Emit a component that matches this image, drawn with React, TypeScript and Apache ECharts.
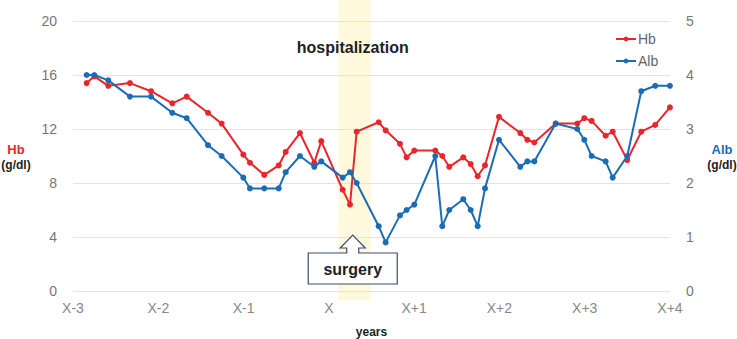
import React, { useEffect, useRef } from "react";
import * as echarts from "echarts";

// Time of each measurement, in years relative to the surgery year X
const years = [
  -2.84, -2.75, -2.586, -2.332, -2.085, -1.836, -1.667, -1.417, -1.257, -1.003,
  -0.925, -0.757, -0.588, -0.506, -0.339, -0.171, -0.089, 0.162, 0.248, 0.326,
  0.584, 0.666, 0.834, 0.912, 1.002, 1.248, 1.33, 1.412, 1.576, 1.663,
  1.745, 1.831, 1.995, 2.245, 2.327, 2.409, 2.66, 2.913, 2.995, 3.081,
  3.245, 3.328, 3.499, 3.663, 3.827, 3.999,
];

// Hemoglobin (g/dl)
const hb = [
  15.4, 15.9, 15.2, 15.4, 14.8, 13.9, 14.4, 13.2, 12.4, 10.1,
  9.5, 8.6, 9.3, 10.3, 11.7, 9.5, 11.1, 7.5, 6.4, 11.8,
  12.5, 11.9, 10.9, 9.9, 10.4, 10.4, 10.0, 9.2, 9.9, 9.4,
  8.5, 9.3, 12.9, 11.7, 11.2, 11.0, 12.4, 12.4, 12.8, 12.6,
  11.5, 11.8, 9.7, 11.8, 12.3, 13.6,
];

// Albumin (g/dl)
const alb = [
  4.0, 4.0, 3.9, 3.6, 3.6, 3.3, 3.2, 2.7, 2.5, 2.1,
  1.9, 1.9, 1.9, 2.2, 2.5, 2.3, 2.4, 2.1, 2.2, 2.0,
  1.2, 0.9, 1.4, 1.5, 1.6, 2.5, 1.2, 1.5, 1.7, 1.5,
  1.2, 1.9, 2.8, 2.3, 2.4, 2.4, 3.1, 3.0, 2.8, 2.5,
  2.4, 2.1, 2.5, 3.7, 3.8, 3.8,
];

// Hospitalization period (years relative to X) and the surgery marker position
const hospitalization = [0.11, 0.49];
const surgeryAt = 0.28;

const RED = "#e8262c";
const BLUE = "#1a6db5";
const FONT = "'Liberation Sans', Arial, sans-serif";

function yearLabel(v: number): string {
  if (v === 0) return "X";
  return v < 0 ? `X${v}` : `X+${v}`;
}

export default function App() {
  const ref = useRef<HTMLDivElement>(null);

  useEffect(() => {
    if (!ref.current) return;
    const chart = echarts.init(ref.current, undefined, { renderer: "svg" });

    chart.setOption({
      animation: false,
      textStyle: { fontFamily: FONT },
      grid: { left: 73, right: 67, top: 21, bottom: 48, outerBoundsMode: "none", containLabel: false },
      legend: {
        data: ["Hb", "Alb"],
        orient: "vertical",
        left: 610,
        top: 27,
        itemWidth: 20,
        itemHeight: 6,
        itemGap: 8,
        textStyle: { color: "#666", fontSize: 14, fontFamily: FONT, padding: [0, 0, 0, -3] },
      },
      xAxis: {
        type: "value",
        min: -3,
        max: 4,
        interval: 1,
        name: "years",
        nameLocation: "middle",
        nameGap: 35,
        nameTextStyle: { color: "#222", fontSize: 12, fontWeight: "bold", fontFamily: FONT },
        axisLine: { show: false },
        axisTick: { show: false },
        splitLine: { show: false },
        axisLabel: {
          color: "#888",
          fontSize: 14,
          margin: 10,
          formatter: yearLabel,
        },
      },
      yAxis: [
        {
          type: "value",
          min: 0,
          max: 20,
          interval: 4,
          axisLine: { show: false },
          axisTick: { show: false },
          axisLabel: { color: "#777", fontSize: 14, margin: 16 },
          splitLine: { lineStyle: { color: "#e3e3e3", width: 1 } },
        },
        {
          type: "value",
          min: 0,
          max: 5,
          interval: 1,
          position: "right",
          axisLine: { show: false },
          axisTick: { show: false },
          axisLabel: { color: "#777", fontSize: 14, margin: 16 },
          splitLine: { show: false },
        },
      ],
      series: [
        {
          name: "Hb",
          type: "line",
          yAxisIndex: 0,
          data: years.map((t, i) => [t, hb[i]]),
          symbol: "circle",
          symbolSize: 6,
          lineStyle: { color: RED, width: 2 },
          itemStyle: { color: RED },
          z: 3,
        },
        {
          name: "Alb",
          type: "line",
          yAxisIndex: 1,
          data: years.map((t, i) => [t, alb[i]]),
          symbol: "circle",
          symbolSize: 6,
          lineStyle: { color: BLUE, width: 2 },
          itemStyle: { color: BLUE },
          z: 4,
        },
      ],
    });

    // Annotations placed from the axis scales
    const x0 = chart.convertToPixel({ xAxisIndex: 0 }, hospitalization[0]) as number;
    const x1 = chart.convertToPixel({ xAxisIndex: 0 }, hospitalization[1]) as number;
    const cx = chart.convertToPixel({ xAxisIndex: 0 }, surgeryAt) as number;
    const yBase = chart.convertToPixel({ yAxisIndex: 0 }, 0) as number;
    const yTop = chart.convertToPixel({ yAxisIndex: 0 }, 20) as number;

    const callout = [
      [-44.5, -38], [-6, -38], [-6, -43], [-12.5, -43], [0, -56], [12.5, -43],
      [6, -43], [6, -38], [44.5, -38], [44.5, -7], [-44.5, -7],
    ].map(([dx, dy]) => [cx + dx, yBase + dy]);

    chart.setOption({
      graphic: [
        {
          type: "rect",
          z: -1,
          shape: { x: x0, y: 0, width: x1 - x0, height: yBase + 9 },
          style: { fill: "#fef8dc" },
          silent: true,
        },
        {
          type: "text",
          z: 10,
          x: cx,
          y: yTop + 26,
          style: {
            text: "hospitalization",
            fill: "#222",
            font: `bold 16px ${FONT}`,
            textAlign: "center",
            textVerticalAlign: "middle",
          },
        },
        {
          type: "polygon",
          z: 10,
          shape: { points: callout },
          style: { fill: "#fff", stroke: "#3e4c6c", lineWidth: 1.2 },
        },
        {
          type: "text",
          z: 11,
          x: cx,
          y: yBase - 22,
          style: {
            text: "surgery",
            fill: "#222",
            font: `bold 16px ${FONT}`,
            textAlign: "center",
            textVerticalAlign: "middle",
          },
        },
        {
          type: "text",
          x: 16,
          y: 149,
          style: { text: "Hb", fill: RED, font: `bold 13px ${FONT}`, textAlign: "center", textVerticalAlign: "middle" },
        },
        {
          type: "text",
          x: 16,
          y: 165,
          style: { text: "(g/dl)", fill: "#222", font: `bold 12px ${FONT}`, textAlign: "center", textVerticalAlign: "middle" },
        },
        {
          type: "text",
          x: 722,
          y: 149,
          style: { text: "Alb", fill: BLUE, font: `bold 13px ${FONT}`, textAlign: "center", textVerticalAlign: "middle" },
        },
        {
          type: "text",
          x: 722,
          y: 165,
          style: { text: "(g/dl)", fill: "#222", font: `bold 12px ${FONT}`, textAlign: "center", textVerticalAlign: "middle" },
        },
      ],
    });

    return () => chart.dispose();
  }, []);

  return (
    <div
      ref={ref}
      style={{ position: "fixed", left: 0, top: 0, width: 737, height: 339, background: "#fff" }}
    />
  );
}
